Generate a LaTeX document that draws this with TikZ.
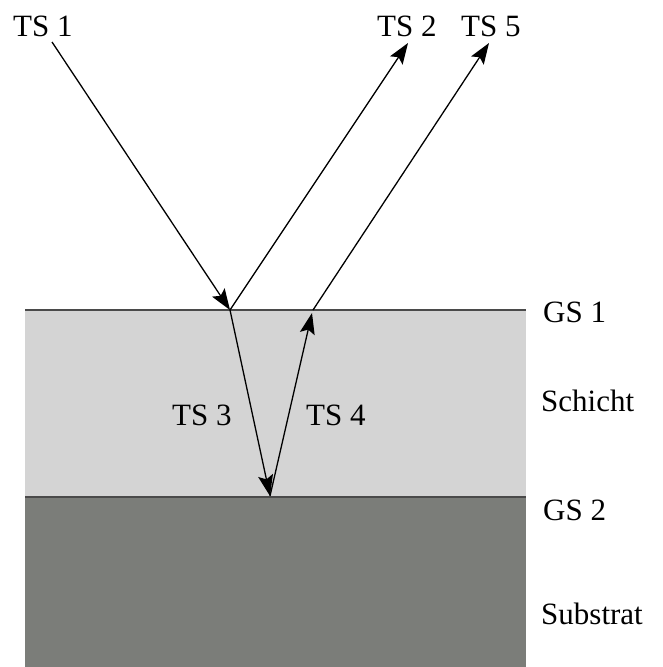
\documentclass[tikz,border=0pt]{standalone}
\usepackage{fontspec}
\setmainfont{Liberation Serif}
\usetikzlibrary{arrows.meta}
\definecolor{layercol}{HTML}{D4D4D4}
\definecolor{substratecol}{HTML}{7B7D79}
\definecolor{ifacecol}{HTML}{4A4A4A}
\begin{document}
\begin{tikzpicture}[x=1pt,y=-1pt,
  ray/.style={line width=1.3pt, draw=black, -{Stealth[length=21pt,width=15pt,inset=4pt]}},
  iface/.style={draw=ifacecol, line width=2pt},
  lbl/.style={font=\fontsize{31}{36}\selectfont, inner sep=0pt, anchor=base west}]
\useasboundingbox (0,0) rectangle (662,667);
% layers
\fill[layercol] (25,310) rectangle (526,497);
\fill[substratecol] (25,497) rectangle (526,667);
\coordinate (gs1l) at (25,310);
\coordinate (gs1r) at (526,310);
\coordinate (gs2l) at (25,497);
\coordinate (gs2r) at (526,497);
\draw[iface] (gs1l) -- (gs1r);
\draw[iface] (gs2l) -- (gs2r);
% ray points
\coordinate (s1) at (52,42);
\coordinate (a) at (230,310);
\coordinate (b) at (270,496);
\coordinate (c) at (313,310);
\coordinate (c4) at (312,313);
\coordinate (e2) at (408,43);
\coordinate (e5) at (489,43);
\draw[ray] (s1) -- (a);
\draw[ray] (a) -- (e2);
\draw[ray] (a) -- (b);
\draw[ray] (b) -- (c4);
\draw[ray] (c) -- (e5);
% labels
\node[lbl] (ts1) at (13,36) {TS 1};
\node[lbl] (ts2) at (377,36) {TS 2};
\node[lbl] (ts5) at (461,36) {TS 5};
\node[lbl] (ts3) at (172,425) {TS 3};
\node[lbl] (ts4) at (306,425) {TS 4};
\node[lbl] (gs1) at (543,322) {GS 1};
\node[lbl] (schicht) at (541,411) {Schicht};
\node[lbl] (gs2) at (543,520) {GS 2};
\node[lbl] (substrat) at (541,624) {Substrat};
\end{tikzpicture}
\end{document}
